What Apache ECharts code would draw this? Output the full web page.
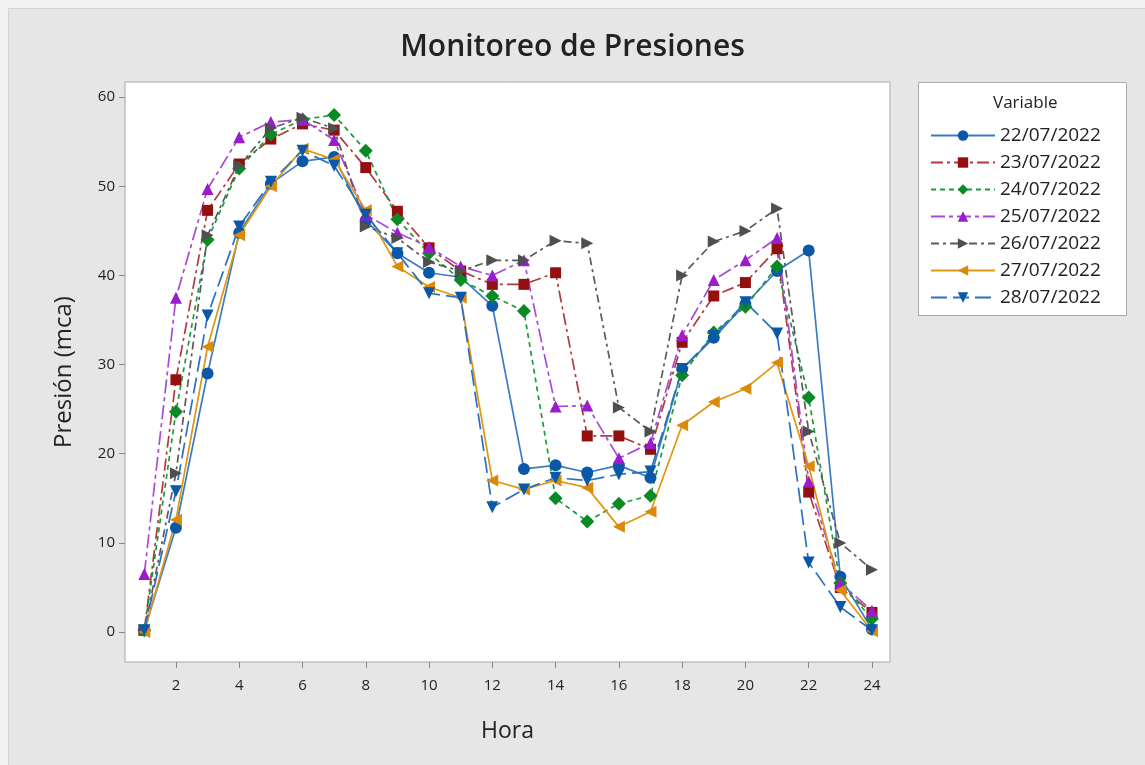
<!DOCTYPE html>
<html>
<head>
<meta charset="utf-8">
<script src="https://cdn.jsdelivr.net/npm/echarts@6/dist/echarts.min.js"></script>
<style>
  html, body { margin: 0; padding: 0; background: #f2f2f2; }
  #chart { width: 1145px; height: 765px; }
</style>
</head>
<body>
<div id="chart"></div>
<script>
const hours = [1,2,3,4,5,6,7,8,9,10,11,12,13,14,15,16,17,18,19,20,21,22,23,24];
const xTicks = [2,4,6,8,10,12,14,16,18,20,22,24];
const yTicks = [0,10,20,30,40,50,60];
const seriesNames = ['22/07/2022','23/07/2022','24/07/2022','25/07/2022','26/07/2022','27/07/2022','28/07/2022'];

const d22 = [0.2,11.7,29.0,44.8,50.3,52.8,53.3,46.2,42.5,40.3,39.8,36.6,18.3,18.7,17.9,18.7,17.3,29.5,33.0,36.8,40.5,42.8,6.2,0.3];
const d23 = [0.2,28.3,47.3,52.5,55.3,57.0,56.3,52.1,47.2,43.1,40.5,39.0,39.0,40.3,22.0,22.0,20.5,32.5,37.7,39.2,43.0,15.7,5.0,2.2];
const d24 = [0.2,24.7,44.0,52.0,55.8,57.5,58.0,54.0,46.3,42.5,39.5,37.7,36.0,15.0,12.4,14.4,15.3,28.8,33.6,36.5,41.0,26.3,5.5,1.5];
const d25 = [6.5,37.5,49.7,55.5,57.2,57.5,55.2,46.8,44.8,43.2,41.0,40.0,41.7,25.3,25.4,19.5,21.2,33.3,39.5,41.7,44.2,16.9,5.5,2.4];
const d26 = [0.2,17.8,44.5,52.3,56.5,57.7,56.5,45.5,44.2,41.5,40.5,41.7,41.7,43.9,43.6,25.2,22.5,40.0,43.8,45.0,47.5,22.5,10.0,7.0];
const d27 = [0.0,12.6,32.0,44.5,50.0,54.2,53.0,47.3,41.0,38.7,37.5,17.0,16.0,17.0,16.2,11.8,13.5,23.2,25.8,27.3,30.2,18.6,4.7,0.1];
const d28 = [0.2,15.8,35.5,45.5,50.5,54.0,52.3,46.8,42.5,38.0,37.5,14.0,16.0,17.3,17.0,17.7,18.0,29.5,33.2,37.0,33.5,7.8,2.8,0.2];
const allData = [d22,d23,d24,d25,d26,d27,d28];

const styles = [
  { line: '#3a7cc4', mark: '#0b57a8', symbol: 'circle', rot: 0, dash: 'solid' },
  { line: '#b23a3a', mark: '#941010', symbol: 'rect', rot: 0, dash: [12,4,3,4] },
  { line: '#1a9a3a', mark: '#0a8a24', symbol: 'diamond', rot: 0, dash: [5,4] },
  { line: '#a84ad8', mark: '#9a1ccc', symbol: 'triangle', rot: 0, dash: [14,4,4,4] },
  { line: '#5a5a5a', mark: '#4f4f4f', symbol: 'triangle', rot: -90, dash: [8,4,3,4] },
  { line: '#e0960e', mark: '#d98a0a', symbol: 'triangle', rot: 90, dash: 'solid' },
  { line: '#2a70c0', mark: '#0b57a8', symbol: 'triangle', rot: 180, dash: [16,6] }
];

const font = '"Open Sans", "Noto Sans", "DejaVu Sans", sans-serif';

const series = seriesNames.map((name, i) => ({
  name: name,
  type: 'line',
  data: hours.map((h, k) => [h, allData[i][k]]),
  symbol: styles[i].symbol,
  symbolRotate: styles[i].rot,
  symbolSize: styles[i].symbol === 'rect' ? 11 : (styles[i].symbol === 'diamond' ? 14 : 12),
  lineStyle: { color: styles[i].line, width: 1.7, type: styles[i].dash },
  itemStyle: { color: styles[i].mark },
  emphasis: { disabled: true },
  animation: false
}));

const chart = echarts.init(document.getElementById('chart'), null, { renderer: 'canvas' });
chart.setOption({
  backgroundColor: '#f2f2f2',
  animation: false,
  textStyle: { fontFamily: font },
  graphic: [
    { type: 'rect', z: -100, shape: { x: 8.5, y: 8.5, width: 1145, height: 765 },
      style: { fill: '#e6e6e6', stroke: '#d2d2d2', lineWidth: 1 } },
    { type: 'rect', z: -50, shape: { x: 918.5, y: 82.5, width: 208, height: 233 },
      style: { fill: '#ffffff', stroke: '#a8a8a8', lineWidth: 1 } },
    { type: 'text', z: 10, left: 993, top: 95,
      style: { text: 'Variable', fontSize: 17, fontFamily: font, fill: '#222' } }
  ],
  title: {
    text: 'Monitoreo de Presiones',
    left: 'center',
    top: 27,
    textStyle: { fontSize: 30, fontWeight: 600, color: '#222', fontFamily: font }
  },
  legend: {
    orient: 'vertical',
    left: 925,
    top: 121,
    itemWidth: 64,
    itemHeight: 13,
    itemGap: 8,
    textStyle: { fontSize: 19, color: '#222', fontFamily: font, lineHeight: 18 },
    data: seriesNames
  },
  grid: {
    left: 125, right: 255, top: 82, bottom: 103,
    show: true, backgroundColor: '#ffffff', borderColor: '#a8a8a8', borderWidth: 1
  },
  xAxis: {
    type: 'value',
    min: 0.39, max: 24.57,
    name: 'Hora',
    nameLocation: 'middle',
    nameGap: 58,
    nameTextStyle: { fontSize: 23, color: '#222', fontFamily: font },
    axisLine: { show: false, onZero: false },
    axisTick: { show: true, length: 6, lineStyle: { color: '#888' }, customValues: xTicks },
    axisLabel: { fontSize: 15, color: '#222', margin: 16, customValues: xTicks },
    splitLine: { show: false }
  },
  yAxis: {
    type: 'value',
    min: -3.36, max: 61.7,
    name: 'Presión (mca)',
    nameLocation: 'middle',
    nameGap: 49,
    nameRotate: 90,
    nameTextStyle: { fontSize: 24, color: '#222', fontFamily: font },
    axisLine: { show: false, onZero: false },
    axisTick: { show: true, length: 6, lineStyle: { color: '#888' }, customValues: yTicks },
    axisLabel: { fontSize: 15, color: '#222', margin: 10, customValues: yTicks },
    splitLine: { show: false }
  },
  series: series
});
</script>
</body>
</html>
